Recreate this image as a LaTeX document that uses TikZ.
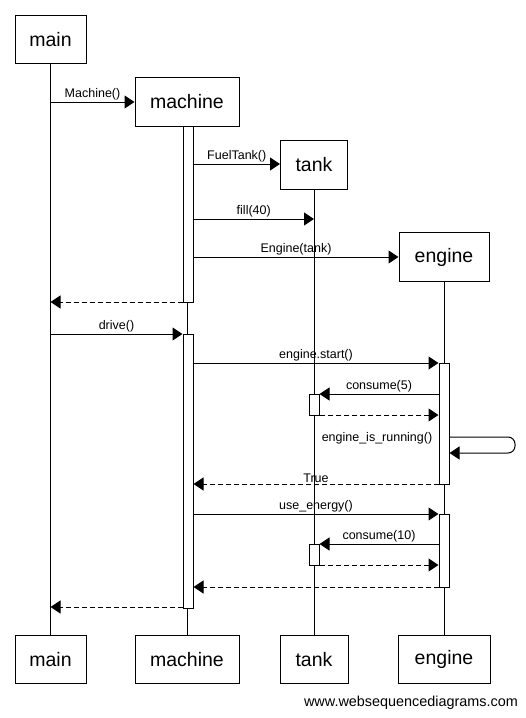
\documentclass[tikz,border=0pt]{standalone}
\usepackage{fontspec}
\setmainfont{Liberation Sans}
\usetikzlibrary{arrows.meta}
\begin{document}
\begin{tikzpicture}[x=1pt,y=-1pt,
  actor/.style={draw,line width=1pt,fill=white,minimum height=48pt,inner sep=0pt,font=\fontsize{19.5}{22}\selectfont},
  actbar/.style={draw,line width=1pt,fill=white,minimum width=10pt,inner sep=0pt},
  life/.style={line width=1pt},
  msg/.style={line width=1pt,-{Triangle[length=10pt,width=13pt]}},
  ret/.style={msg,dash pattern=on 5pt off 3pt},
  lbl/.style={font=\fontsize{12.5}{14}\selectfont,inner sep=1pt,anchor=south}]
\useasboundingbox (0,0) rectangle (526,718);
% lifelines
\draw[life] (50.5,63) -- (50.5,635);
\draw[life] (187,126) -- (187,635);
\draw[life] (314,189) -- (314,635);
\draw[life] (444,281) -- (444,635);
% actor boxes
\node[actor,minimum width=71pt] (mainT) at (50.5,39.5) {main};
\node[actor,minimum width=104pt,minimum height=49pt] (machT) at (187,102) {machine};
\node[actor,minimum width=67pt,minimum height=49pt] (tankT) at (314,165) {tank};
\node[actor,minimum width=90pt,minimum height=49pt] (engT) at (444,257) {engine};
\node[actor,minimum width=71pt] (mainB) at (50.5,659.5) {main};
\node[actor,minimum width=104pt] (machB) at (187,659.5) {machine};
\node[actor,minimum width=68pt] (tankB) at (314,659.5) {tank};
\node[actor,minimum width=92pt] (engB) at (444,659.5) {engine};
% activation bars
\node[actbar,minimum height=176pt] (ma1) at (188,214) {};
\node[actbar,minimum height=274pt] (ma2) at (188,471) {};
\node[actbar,minimum height=121pt] (ea1) at (444,423.5) {};
\node[actbar,minimum height=73pt] (ea2) at (444,550.5) {};
\node[actbar,minimum height=21pt] (ta1) at (314,404.5) {};
\node[actbar,minimum height=21pt] (ta2) at (314,554.5) {};
% messages
\draw[msg] (mainT.south |- 0,102) -- node[lbl]{Machine()} (machT.west);
\draw[msg] (ma1.east |- 0,164) -- node[lbl]{FuelTank()} (tankT.west |- 0,164);
\draw[msg] (ma1.east |- 0,219) -- node[lbl]{fill(40)} (tankT.south |- 0,219);
\draw[msg] (ma1.east |- 0,257) -- node[lbl]{Engine(tank)} (engT.west |- 0,257);
\draw[ret] (ma1.west |- 0,302) -- (mainT.south |- 0,302);
\draw[msg] (mainT.south |- 0,334) -- node[lbl]{drive()} (ma2.west |- 0,334);
\draw[msg] (ma2.east |- 0,363) -- node[lbl]{engine.start()} (ea1.west |- 0,363);
\draw[msg] (ea1.west |- 0,394) -- node[lbl]{consume(5)} (ta1.east |- 0,394);
\draw[ret] (ta1.east |- 0,415) -- (ea1.west |- 0,415);
\draw[msg,rounded corners=7pt] (ea1.east |- 0,437) -- (515,437) -- (515,453) -- (ea1.east |- 0,453);
\node[font=\fontsize{12.5}{14}\selectfont,inner sep=0pt] (selfl) at (377,438) {engine\_is\_running()};
\draw[ret] (ea1.west |- 0,484) -- node[lbl]{True} (ma2.east |- 0,484);
\draw[msg] (ma2.east |- 0,514) -- node[lbl]{use\_energy()} (ea2.west |- 0,514);
\draw[msg] (ea2.west |- 0,544) -- node[lbl]{consume(10)} (ta2.east |- 0,544);
\draw[ret] (ta2.east |- 0,565) -- (ea2.west |- 0,565);
\draw[ret] (ea2.west |- 0,587) -- (ma2.east |- 0,587);
\draw[ret] (ma2.west |- 0,607) -- (mainT.south |- 0,607);
% watermark
\node[font=\fontsize{14.4}{16}\selectfont,inner sep=0pt,anchor=east] (wm) at (518,703) {www.websequencediagrams.com};
\end{tikzpicture}
\end{document}
